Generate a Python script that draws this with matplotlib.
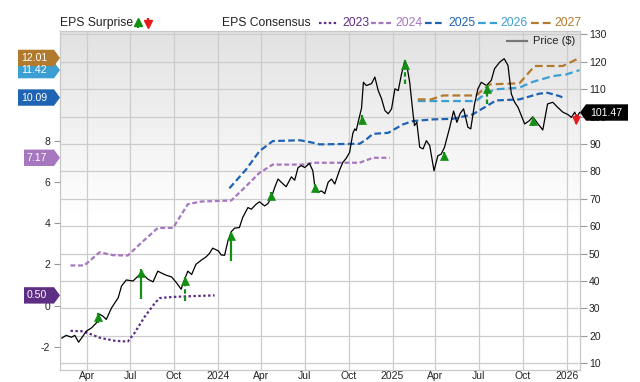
import numpy as np
import pandas as pd
import matplotlib
matplotlib.use('Agg')
import matplotlib.pyplot as plt
import matplotlib.transforms as mtransforms
from matplotlib.patches import Polygon
from matplotlib.lines import Line2D

plt.rcParams['font.family'] = ['Liberation Sans', 'DejaVu Sans']

# ---------------- data ----------------
price_dates = [
    '2023-02-08', '2023-02-17', '2023-02-28', '2023-03-07', '2023-03-15', '2023-03-24', '2023-03-31',
    '2023-04-11', '2023-04-21', '2023-04-28', '2023-05-05', '2023-05-12', '2023-05-23', '2023-06-06',
    '2023-06-13', '2023-06-23', '2023-07-07', '2023-07-14', '2023-07-25', '2023-08-07', '2023-08-18',
    '2023-08-28', '2023-09-05', '2023-09-15', '2023-09-26', '2023-10-06', '2023-10-16', '2023-10-23',
    '2023-10-30', '2023-11-07', '2023-11-16', '2023-11-27', '2023-12-07', '2023-12-14', '2023-12-21',
    '2024-01-02', '2024-01-08', '2024-01-15', '2024-01-22', '2024-01-29', '2024-02-05', '2024-02-15',
    '2024-02-22', '2024-03-04', '2024-03-11', '2024-03-21', '2024-03-28', '2024-04-08', '2024-04-15',
    '2024-04-22', '2024-04-29', '2024-05-06', '2024-05-13', '2024-05-23', '2024-06-03', '2024-06-10',
    '2024-06-17', '2024-06-24', '2024-07-01', '2024-07-11', '2024-07-18', '2024-07-22', '2024-07-29',
    '2024-08-05', '2024-08-12', '2024-08-19', '2024-08-26', '2024-09-02', '2024-09-12', '2024-09-19',
    '2024-09-26', '2024-10-03', '2024-10-10', '2024-10-14', '2024-10-17', '2024-10-21', '2024-10-28',
    '2024-11-01', '2024-11-07', '2024-11-18', '2024-11-25', '2024-12-02', '2024-12-09', '2024-12-16',
    '2024-12-23', '2024-12-30', '2025-01-06', '2025-01-13', '2025-01-20', '2025-01-27', '2025-01-31',
    '2025-02-06', '2025-02-13', '2025-02-16', '2025-02-21', '2025-02-27', '2025-03-06', '2025-03-13',
    '2025-03-20', '2025-03-29', '2025-04-06', '2025-04-13', '2025-04-20', '2025-05-01', '2025-05-09',
    '2025-05-16', '2025-05-23', '2025-05-30', '2025-06-08', '2025-06-14', '2025-06-22', '2025-06-29',
    '2025-07-06', '2025-07-17', '2025-07-27', '2025-08-03', '2025-08-14', '2025-08-23', '2025-08-31',
    '2025-09-07', '2025-09-14', '2025-09-21', '2025-09-28', '2025-10-05', '2025-10-15', '2025-10-22',
    '2025-11-02', '2025-11-12', '2025-11-22', '2025-12-03', '2025-12-13', '2025-12-24', '2026-01-04',
    '2026-01-11', '2026-01-18', '2026-01-22', '2026-01-28']
price_values = [
    19.2, 20.2, 19.5, 20.2, 17.7, 19.9, 21.7,
    22.9, 24.7, 27.9, 27.2, 26.0, 30.2, 33.9,
    38.2, 40.4, 40.0, 41.2, 43.0, 40.7, 39.7,
    43.6, 42.9, 42.1, 41.5, 39.4, 37.0, 40.6,
    43.6, 42.4, 46.1, 47.6, 48.8, 50.0, 52.0,
    51.0, 49.5, 49.4, 54.6, 58.0, 59.3, 59.5,
    63.2, 66.8, 66.2, 68.0, 68.9, 67.4, 68.3,
    70.5, 74.1, 77.2, 76.0, 74.4, 78.0, 76.8,
    81.4, 82.1, 81.4, 82.9, 80.2, 74.7, 72.3,
    72.9, 71.9, 76.0, 77.2, 75.4, 80.5, 83.3,
    84.8, 86.9, 94.0, 95.5, 94.9, 98.0, 103.0,
    112.5, 111.3, 112.0, 114.4, 109.5, 106.5, 102.2,
    101.0, 102.8, 110.1, 109.5, 115.6, 120.5, 118.7,
    112.5, 101.0, 96.7, 97.9, 88.8, 88.2, 91.2,
    89.4, 80.2, 85.7, 86.3, 88.8, 96.1, 102.0,
    97.9, 101.2, 102.8, 96.1, 95.5, 104.6, 110.1,
    112.5, 111.3, 113.2, 117.5, 119.9, 121.1, 118.7,
    108.3, 105.2, 103.4, 100.4, 97.3, 98.5, 99.9,
    97.3, 95.1, 104.6, 105.2, 103.4, 101.6, 100.7,
    99.7, 101.6, 99.5, 101.47]

eps_2023_dates = ['2023-02-26', '2023-03-24', '2023-04-04', '2023-04-28', '2023-05-08', '2023-05-30',
                  '2023-06-26', '2023-07-10', '2023-08-01', '2023-08-22', '2023-09-01', '2023-09-26',
                  '2023-10-23', '2023-12-25']
eps_2023_values = [-1.22, -1.24, -1.33, -1.55, -1.60, -1.70, -1.74, -1.33, -0.52, 0.13, 0.37, 0.42, 0.45, 0.50]

eps_2024_dates = ['2023-02-26', '2023-03-27', '2023-04-28', '2023-05-26', '2023-06-26', '2023-07-24',
                  '2023-08-28', '2023-09-29', '2023-10-30', '2023-11-27', '2024-01-29', '2024-02-29',
                  '2024-03-28', '2024-04-25', '2024-06-28', '2024-07-18', '2024-10-24', '2024-11-21',
                  '2024-12-26']
eps_2024_values = [1.95, 1.95, 2.59, 2.45, 2.43, 3.04, 3.77, 3.77, 4.92, 5.05, 5.10, 5.79,
                   6.44, 6.84, 6.84, 6.93, 6.93, 7.17, 7.17]

eps_2025_dates = ['2024-01-25', '2024-02-29', '2024-03-28', '2024-04-25', '2024-06-21', '2024-07-18',
                  '2024-08-01', '2024-10-24', '2024-11-07', '2024-11-21', '2024-12-23', '2025-01-23',
                  '2025-02-13', '2025-03-26', '2025-05-07', '2025-06-18', '2025-08-06', '2025-09-24',
                  '2025-11-05', '2025-11-22', '2025-12-17', '2025-12-24']
eps_2025_values = [5.69, 6.60, 7.49, 7.98, 8.02, 7.90, 7.82, 7.85, 8.06, 8.33, 8.38, 8.79,
                   8.95, 9.03, 9.06, 9.27, 9.95, 10.00, 10.28, 10.32, 10.16, 10.09]

eps_2026_dates = ['2025-02-23', '2025-06-25', '2025-07-17', '2025-08-06', '2025-09-24', '2025-10-22',
                  '2025-12-03', '2025-12-31', '2026-01-28']
eps_2026_values = [9.92, 9.92, 10.32, 10.49, 10.57, 10.85, 11.13, 11.21, 11.42]

eps_2027_dates = ['2025-02-23', '2025-03-23', '2025-04-17', '2025-06-25', '2025-07-24', '2025-09-24',
                  '2025-10-26', '2025-12-24', '2026-01-28']
eps_2027_values = [10.00, 10.00, 10.19, 10.19, 10.73, 10.78, 11.62, 11.62, 12.01]

# EPS surprise markers (price level of arrow tip and tail)
surprise_dates = ['2023-04-24', '2023-07-24', '2023-10-23', '2024-01-29', '2024-04-22', '2024-07-22',
                  '2024-10-28', '2025-01-27', '2025-04-18', '2025-07-18', '2025-10-23', '2026-01-21']
surprise_tip = [28.5, 44.4, 41.5, 57.9, 72.6, 75.5, 100.4, 120.5, 87.2, 111.7, 99.8, 97.4]
surprise_tail = [24.6, 33.3, 32.9, 47.3, 69.9, 72.9, 97.9, 112.0, 84.5, 104.6, 96.7, 101.0]

x_tick_dates = ['2023-04-01', '2023-07-01', '2023-10-01', '2024-01-01', '2024-04-01', '2024-07-01',
                '2024-10-01', '2025-01-01', '2025-04-01', '2025-07-01', '2025-10-01', '2026-01-01']
x_tick_labels = ['Apr', 'Jul', 'Oct', '2024', 'Apr', 'Jul', 'Oct', '2025', 'Apr', 'Jul', 'Oct', '2026']
eps_ticks = [-2, 0, 2, 4, 6, 8]
eps_tick_labels = ['-2', '0', '2', '4', '6', '8']
price_ticks = [10, 20, 30, 40, 50, 60, 70, 80, 90, 100, 110, 120, 130]
consensus_years = ['2023', '2024', '2025', '2026', '2027']

# ---------------- styles ----------------
c_years = ['#5e2d84', '#a677bf', '#1f63b3', '#3c9fd3', '#b27a2c']
ls_years = [(0, (1.1, 1.1)), (0, (2.2, 1.2)), (0, (3.0, 1.5)), (0, (3.5, 1.8)), (0, (3.5, 1.8))]
surprise_dashed = [True, False, True, False, False, False, False, True, False, True, False, False]
GREEN = '#139013'
RED = '#e8191a'

W, H = 640, 382
L, R, T, B = 60, 580, 30.7, 370
fig = plt.figure(figsize=(W / 100, H / 100), dpi=100)
ax = fig.add_axes([L / W, 1 - B / H, (R - L) / W, (B - T) / H])

# background gradient
g = np.linspace(0, 1, 256).reshape(-1, 1)
v = np.clip(0.885 + 0.115 * g / 0.55, 0, 1)
ax.imshow(np.dstack([v, v, v]), extent=[0, 1, 0, 1], transform=ax.transAxes,
          aspect='auto', zorder=0, interpolation='bilinear')

xmin, xmax = pd.Timestamp('2023-02-04'), pd.Timestamp('2026-01-29')
ax.set_xlim(xmin, xmax)
ax.set_ylim(7.556, 131.31)
ax.set_xticks(pd.to_datetime(x_tick_dates))
ax.set_xticklabels(x_tick_labels)
ax.set_yticks(price_ticks)
ax.set_yticklabels([str(t) for t in price_ticks])
ax.grid(True, color='#cccccc', lw=0.9)
for s in ax.spines.values():
    s.set_color('#c8c8c8')
    s.set_linewidth(0.9)

# EPS axis (left)
ax_e = ax.twinx()
ax_e.set_ylim(-3.117, 13.33)
ax_e.set_yticks(eps_ticks)
ax_e.set_yticklabels(eps_tick_labels)
for s in ax_e.spines.values():
    s.set_visible(False)

eps_dates = [eps_2023_dates, eps_2024_dates, eps_2025_dates, eps_2026_dates, eps_2027_dates]
eps_values = [eps_2023_values, eps_2024_values, eps_2025_values, eps_2026_values, eps_2027_values]
for d, vals, c, ls in zip(eps_dates, eps_values, c_years, ls_years):
    ax_e.plot(pd.to_datetime(d), vals, color=c, lw=1.6, ls=ls, zorder=3)

# price axis overlay
ax_p = ax.twinx()
ax_p.set_ylim(ax.get_ylim())
ax_p.axis('off')
ax_p.plot(pd.to_datetime(price_dates), price_values, color='black', lw=0.9, zorder=4)

# tick placement (after twins are created)
ax.yaxis.tick_right()
ax.tick_params(axis='x', length=0, pad=1.0, labelsize=7.5, colors='#222222')
ax.tick_params(axis='y', which='both', left=False, labelleft=False, right=True, labelright=True,
               length=5, width=0.8, color='#999999', pad=1.5, labelsize=7.5, labelcolor='#222222')
ax_e.yaxis.tick_left()
ax_e.tick_params(axis='y', which='both', right=False, labelright=False, left=True, labelleft=True,
                 length=4, width=0.8, color='#999999', pad=3, labelsize=7.5, labelcolor='#222222')

MS = 6.0
for d, tip, tail, dashed in zip(pd.to_datetime(surprise_dates), surprise_tip, surprise_tail,
                                surprise_dashed):
    up = tip > tail
    col = GREEN if up else RED
    ls = (0, (2.0, 1.3)) if dashed else '-'
    ax_p.plot([d, d], [tail, tip], color=col, lw=1.6, ls=ls, solid_capstyle='butt', zorder=5)
    off = -MS / 2 / 72 if up else MS / 2 / 72
    tr = ax_p.transData + mtransforms.ScaledTranslation(0, off, fig.dpi_scale_trans)
    ax_p.plot([d], [tip], marker='^' if up else 'v', ms=MS, color=col, mec=col, mew=0.5,
              transform=tr, zorder=6, clip_on=False)


def badge(axis, xa, yv, text, color, width_px, side, text_off):
    blend = mtransforms.blended_transform_factory(axis.transAxes, axis.transData)
    tr = fig.dpi_scale_trans + mtransforms.ScaledTranslation(xa, yv, blend)
    h = 8.2 / 100
    tip = 6 / 100
    w = width_px / 100
    sgn = -1 if side == 'left' else 1
    verts = [(0, 0), (sgn * tip, h), (sgn * w, h), (sgn * w, -h), (sgn * tip, -h)]
    axis.add_patch(Polygon(verts, closed=True, transform=tr, facecolor=color, edgecolor='none',
                           clip_on=False, zorder=10))
    axis.text(sgn * text_off / 100, 0, text, transform=tr, ha='center', va='center',
              color='white', fontsize=7.6, clip_on=False, zorder=11)


badge_widths = [36, 36, 42, 42, 42]
badge_text_off = [23, 23, 26, 26, 26]
for i in [0, 1, 2, 3, 4]:
    badge(ax_e, 0, eps_values[i][-1], '%.2f' % eps_values[i][-1], c_years[i],
          badge_widths[i], 'left', badge_text_off[i])

badge(ax_p, 1, price_values[-1], '%.2f' % price_values[-1], 'black', 48, 'right', 26)

# ---------------- legends (figure pixel coords) ----------------
def fpx(x, ytop):
    return x / 100, (H - ytop) / 100

fig_tr = fig.dpi_scale_trans
ty = 22.7
fig.text(*fpx(60, ty), 'EPS Surprise', transform=fig_tr, ha='left', va='center',
         fontsize=8.7, color='#222222')
for xx, up, col in [(137.5, True, GREEN), (148, False, RED)]:
    y0, y1 = (27.5, 20.5) if up else (17.5, 24.5)
    fig.add_artist(Line2D([xx / 100, xx / 100], [(H - y0) / 100, (H - y1) / 100], transform=fig_tr,
                          color=col, lw=1.6, solid_capstyle='butt'))
    hx, hy = fpx(xx, 21.5 if up else 24.0)
    fig.add_artist(Line2D([hx], [hy], transform=fig_tr, marker='^' if up else 'v', ms=5.5,
                          color=col, mec=col, ls='none'))

fig.text(*fpx(221.7, ty), 'EPS Consensus', transform=fig_tr, ha='left', va='center',
         fontsize=8.7, color='#222222')
sample_x = [(319, 337), (371, 391), (425, 445), (478, 497), (531, 551)]
text_x = [342, 395, 448, 500, 554]
for (x0, x1), tx, yr, c, ls in zip(sample_x, text_x, consensus_years, c_years, ls_years):
    fig.add_artist(Line2D([x0 / 100, x1 / 100], [(H - ty) / 100] * 2, transform=fig_tr,
                          color=c, lw=1.6, ls=ls))
    fig.text(*fpx(tx, ty), yr, transform=fig_tr, ha='left', va='center', fontsize=8.7, color=c)

# Price legend inside plot
fig.add_artist(Line2D([506.7 / 100, 526.7 / 100], [(H - 41.3) / 100] * 2, transform=fig_tr,
                      color='#777777', lw=1.6))
fig.text(*fpx(532.7, 41.3), 'Price ($)', transform=fig_tr, ha='left', va='center',
         fontsize=8, color='#222222')

fig.savefig('out.png', dpi=100)
